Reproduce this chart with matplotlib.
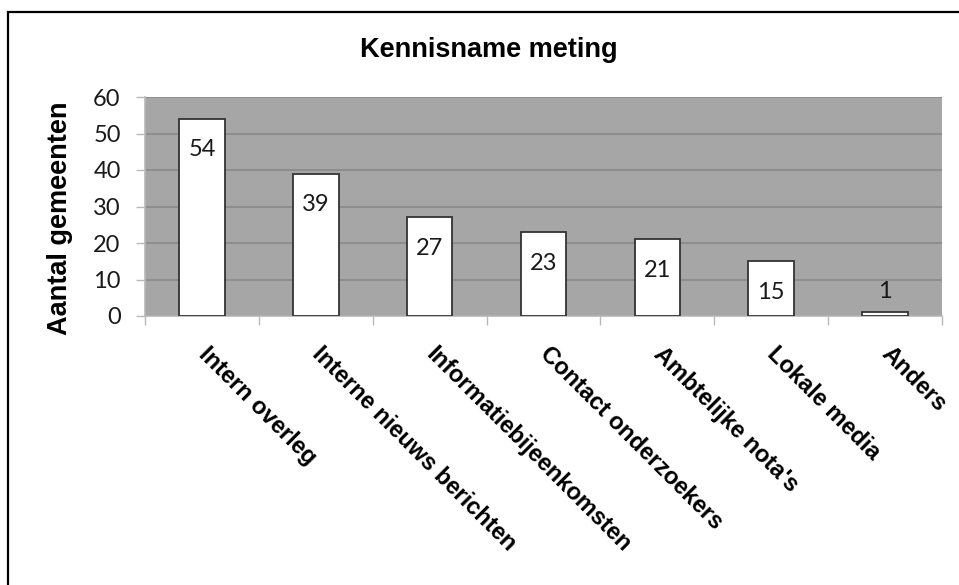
import matplotlib
matplotlib.use("Agg")
import matplotlib.pyplot as plt
from matplotlib.patches import Rectangle
from matplotlib.transforms import ScaledTranslation
import numpy as np

# survey results: how municipalities learned about the measurement
categories = ["Intern overleg", "Interne nieuws berichten", "Informatiebijeenkomsten",
              "Contact onderzoekers", "Ambtelijke nota's", "Lokale media", "Anders"]
counts = [54, 39, 27, 23, 21, 15, 1]
yticks = [0, 10, 20, 30, 40, 50, 60]

W, H = 959, 585
fig = plt.figure(figsize=(W / 100, H / 100), dpi=100)
fig.patch.set_facecolor("white")

# black frame around the chart (runs off the right and bottom edges)
fig.patches.append(Rectangle((8 / W, -0.2), 1.2, 1 - 12 / H + 0.2,
                             transform=fig.transFigure, fill=False,
                             edgecolor="black", linewidth=1.6))

ax = fig.add_axes([145 / W, 1 - 316 / H, (942 - 145) / W, (316 - 97) / H])
ax.set_facecolor("#a6a6a6")

x = np.arange(len(categories))
bars = ax.bar(x, counts, width=0.4, color="white", edgecolor="#333333",
              linewidth=1.3, zorder=3)

ax.set_xlim(-0.5, len(categories) - 0.5)
ax.set_ylim(0, 60)
ax.set_yticks(yticks)
ax.yaxis.grid(True, color="#8a8a8a", linewidth=1.2, zorder=1)
ax.set_axisbelow(True)

num_font = "Lato"
ax.set_yticklabels([str(v) for v in yticks], fontsize=17, family=num_font,
                   color="#1a1a1a")
ax.tick_params(axis="y", length=6.5, width=1, color="#b8b8b8", pad=11)

# category boundaries carry the tick marks, centres carry the labels
ax.set_xticks(np.arange(-0.5, len(categories)), minor=True)
ax.set_xticks(x)
ax.set_xticklabels(categories, rotation=-45, rotation_mode="anchor",
                   ha="left", va="top", fontsize=17, fontweight="bold",
                   family="Liberation Sans")
ax.tick_params(axis="x", which="major", length=0, pad=19)
ax.tick_params(axis="x", which="minor", length=6.5, width=1, color="#b8b8b8")
shift = ScaledTranslation(8 / 100, 0, fig.dpi_scale_trans)
for lbl in ax.get_xticklabels():
    lbl.set_transform(lbl.get_transform() + shift)

for side in ("top", "right"):
    ax.spines[side].set_visible(False)
for side in ("left", "bottom"):
    ax.spines[side].set_color("#b8b8b8")
    ax.spines[side].set_linewidth(1.2)

# value labels just inside the top of each bar, above it when the bar is too short
for xi, v in zip(x, counts):
    dy = -31 if v >= 5 else 21
    ax.annotate(str(v), (xi, v), xytext=(0, dy), textcoords="offset pixels",
                ha="center", va="center", fontsize=17, family=num_font,
                color="#1a1a1a", zorder=4)

fig.text(489 / W, 1 - 50 / H, "Kennisname meting", ha="center", va="center",
         fontsize=19.5, fontweight="bold", family="Liberation Sans")
fig.text(60 / W, 1 - 218 / H, "Aantal gemeenten", ha="center", va="center",
         rotation=90, fontsize=19.5, fontweight="bold", family="Liberation Sans")

fig.savefig("out.png", dpi=100)
